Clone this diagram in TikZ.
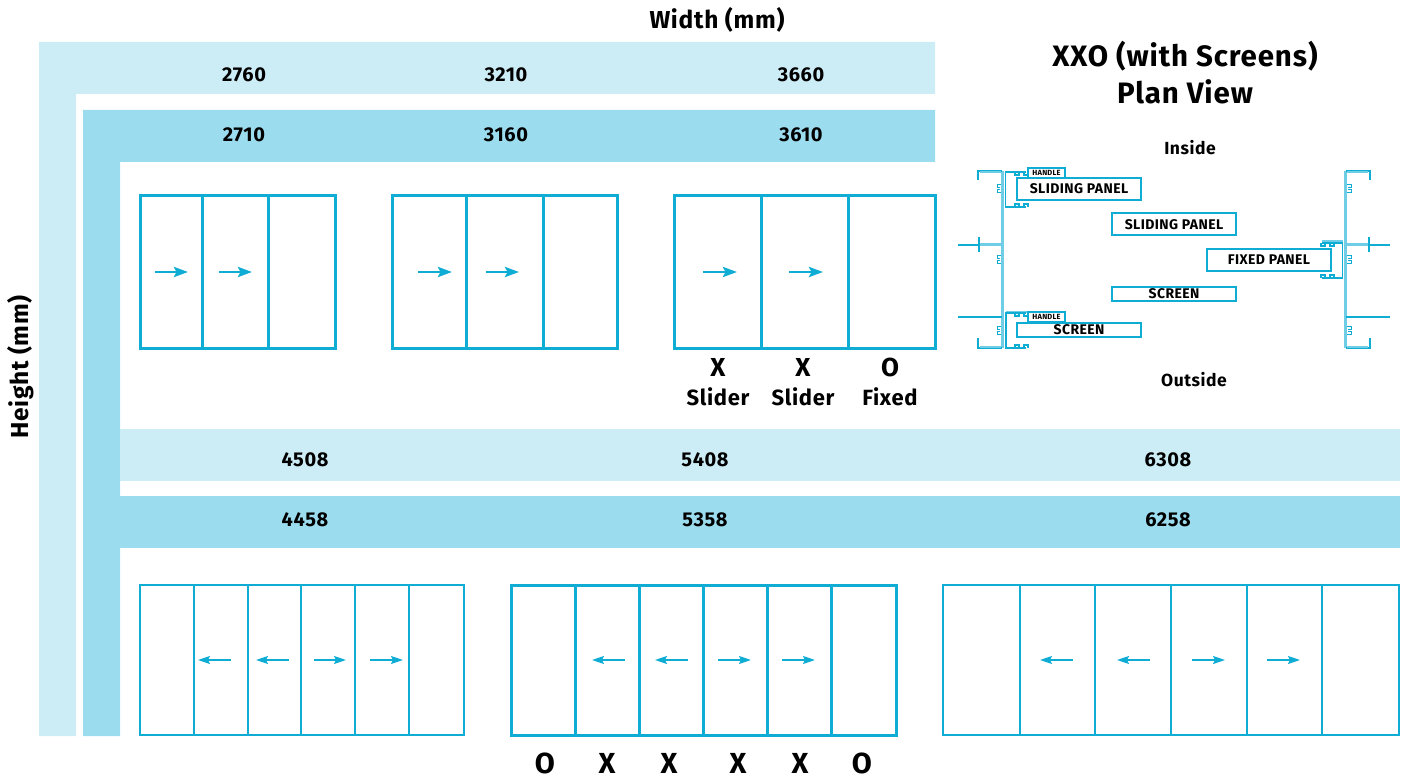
\documentclass[tikz,border=0pt]{standalone}
\usepackage{fontspec}
\setmainfont{Fira Sans}[LetterSpace=3]
\usetikzlibrary{arrows.meta}
\definecolor{bandlight}{HTML}{CCEDF6}
\definecolor{banddark}{HTML}{9BDCEE}
\definecolor{frameblue}{HTML}{0FACD3}
\definecolor{jamblight}{HTML}{6FCDE6}
\tikzset{
	sizelabel/.style={font=\fontsize{20}{22}\selectfont\bfseries,inner sep=0pt},
	headlabel/.style={font=\fontsize{24.5}{26}\selectfont\bfseries,inner sep=0pt},
	titlelabel/.style={font=\fontsize{29.5}{37}\selectfont\bfseries,inner sep=0pt,align=center},
	sidelabel/.style={font=\fontsize{17.5}{20}\selectfont\bfseries,inner sep=0pt},
	codelabel/.style={font=\fontsize{22}{29}\selectfont\bfseries,inner sep=0pt,align=center},
	paneltag/.style={draw=frameblue,line width=2pt,fill=white,inner sep=0pt,font=\fontsize{14}{15}\selectfont\bfseries},
	handletag/.style={paneltag,line width=1.6pt,font=\fontsize{7.5}{8}\selectfont\bfseries},
	travel/.style={->,draw=frameblue},
	jamb/.style={draw=jamblight,line width=3.5pt},
	profile/.style={draw=frameblue,line width=1.3pt}
}
\begin{document}
\begin{tikzpicture}[x=1pt,y=-1pt,>={Stealth[length=14pt,width=10pt,inset=2.5pt]},line join=miter]
	\useasboundingbox (0,0) rectangle (1408,778);
	% bands
	\fill[bandlight] (39,42)--(935,42)--(935,94)--(76,94)--(76,736)--(39,736)--cycle;
	\fill[banddark] (83,110)--(935,110)--(935,162)--(120,162)--(120,736)--(83,736)--cycle;
	\fill[bandlight] (120,429) rectangle (1400,481);
	\fill[banddark] (120,496) rectangle (1400,548);
	% axis titles
	\node[headlabel] (widthlabel) at (717,20) {Width (mm)};
	\node[headlabel,rotate=90] (heightlabel) at (21,367) {Height (mm)};
	% sizes
	\foreach \xpos/\outer/\inner in {244/2760/2710,506/3210/3160,801/3660/3610}{
		\node[sizelabel] (w\outer) at (\xpos,74.5) {\outer};
		\node[sizelabel] (w\inner) at (\xpos,134.5) {\inner};
	}
	\foreach \xpos/\outer/\inner in {305/4508/4458,705/5408/5358,1168/6308/6258}{
		\node[sizelabel] (h\outer) at (\xpos,459.5) {\outer};
		\node[sizelabel] (h\inner) at (\xpos,519.5) {\inner};
	}
	% top row doors
	\foreach \xa/\xb/\xc/\xd in {140/202/268/335,392/466/543/617,674/761/848/935}{
		\draw[frameblue,line width=3pt] (\xa,196) rectangle (\xd,348);
		\draw[frameblue,line width=3pt] (\xb,196)--(\xb,348) (\xc,196)--(\xc,348);
	}
	\foreach \i/\xa/\xb in {1/155/188,2/219/252,3/418/452,4/486/519,5/703/737,6/789/823}{
		\coordinate (ta\i) at (\xa,272);
		\coordinate (tb\i) at (\xb,272);
		\draw[travel,line width=2.8pt] (ta\i)--(tb\i);
	}
	% bottom row doors
	\foreach \lw/\xs in {2.2/{140,194,248,301,355,409,464},3/{511,575,639,703,767,831,896},1.6/{943,1020,1095,1171,1247,1322,1399}}{
		\foreach \xa in \xs {
			\draw[frameblue,line width=\lw pt] (\xa,585)--(\xa,735);
		}
	}
	\draw[frameblue,line width=2pt] (140,585) rectangle (464,735);
	\draw[frameblue,line width=3pt] (511,585) rectangle (896,735);
	\draw[frameblue,line width=1.6pt] (943,585) rectangle (1399,735);
	\foreach \i/\xa/\xb in {1/231/198,2/289/256,3/314/346,4/370/403,5/625/592,6/688/655,7/718/751,8/782/815,9/1073/1040,10/1150/1117,11/1192/1225,12/1267/1300}{
		\coordinate (ba\i) at (\xa,660);
		\coordinate (bb\i) at (\xb,660);
		\draw[travel,line width=1.8pt,>={Stealth[length=12pt,width=8pt,inset=2pt]}] (ba\i)--(bb\i);
	}
	% letters
	\node[codelabel] (code1) at (718,382) {{\fontsize{26}{29}\selectfont X}\\Slider};
	\node[codelabel] (code2) at (803,382) {{\fontsize{26}{29}\selectfont X}\\Slider};
	\node[codelabel] (code3) at (890,382) {{\fontsize{26}{29}\selectfont O}\\Fixed};
	\foreach \i/\xa/\letter in {1/545/O,2/607/X,3/669/X,4/738/X,5/800/X,6/862/O}{
		\node[font=\fontsize{29}{31}\selectfont\bfseries,inner sep=0pt] (bottom\i) at (\xa,763.5) {\letter};
	}
	% plan view
	\node[titlelabel] (plantitle) at (1185,73) {XXO (with Screens)\\Plan View};
	\node[sidelabel] (inside) at (1190,148) {Inside};
	\node[sidelabel] (outside) at (1194,380) {Outside};
	% jambs
	\draw[jamb] (1002.5,171)--(1002.5,348);
	\draw[jamb] (1345.5,171)--(1345.5,348);
	\draw[profile] (1002,171)--(978,171)--(978,180);
	\draw[profile] (1002,348)--(978,348)--(978,338);
	\draw[profile] (1346,171)--(1370,171)--(1370,180);
	\draw[profile] (1346,348)--(1370,348)--(1370,338);
	\draw[jamb,line width=2pt] (980,172.5)--(1001,172.5) (980,346.5)--(1001,346.5) (1347,172.5)--(1368,172.5) (1347,346.5)--(1368,346.5);
	\foreach \xa/\xb/\xc/\d in {1002/979/958/1,1346/1369/1390/-1}{
		\draw[jamb,line width=2.5pt] (\xa,244.5)--(\xb,244.5);
		\draw[profile] (\xb,245)--(\xc,245);
		\draw[profile,line width=2pt] (\xb,237)--(\xb,252);
		\draw[profile,line width=2.4pt] (\xc+\d*1,245)--(\xc+\d*5,245);
		\draw[profile] (\xa,317)--(\xc,317);
		\draw[profile,line width=2.4pt] (\xc+\d*1,317)--(\xc+\d*5,317);
	}
	% hooks on the flanges
	\foreach \xa in {978,1370}{
		\draw[profile,line width=2pt] (\xa,176)--(\xa,180);
		\draw[profile,line width=2pt] (\xa,338)--(\xa,343);
	}
	% sash frames
	\draw[jamb,line width=2.5pt] (1006,312)--(1027,312);
	\draw[jamb,line width=2.5pt] (1343,241.5)--(1322,241.5);
	\draw[profile] (1026,172)--(1005.5,172)--(1005.5,207)--(1026,207);
	\draw[profile] (1026,313)--(1006,313)--(1006,348)--(1026,348);
	\draw[profile] (1322,243)--(1342.5,243)--(1342.5,278)--(1322,278);
	\foreach \xa/\ya/\d in {1017/172/1,1026/172/1,1017/207/-1,1026/207/-1,1017/313/1,1026/313/1,1017/348/-1,1026/348/-1,1323/243/1,1332/243/1,1323/278/-1,1332/278/-1}{
		\draw[profile] (\xa-2,\ya)--(\xa-2,\ya+\d*3)--(\xa+2,\ya+\d*3)--(\xa+2,\ya);
	}
	% clips on the jambs
	\foreach \xa/\d in {1001/-1,1347/1}{
		\foreach \ya in {189,259,330}{
			\draw[profile,line width=1pt] (\xa,\ya-4)--(\xa+\d*4,\ya-4)--(\xa+\d*4,\ya-1)--(\xa+\d*1,\ya-1);
			\draw[profile,line width=1pt] (\xa,\ya+4)--(\xa+\d*4,\ya+4)--(\xa+\d*4,\ya+1)--(\xa+\d*1,\ya+1);
		}
	}
	% tags
	\node[handletag,minimum width=37pt,minimum height=10pt] (handletop) at (1046.5,173) {HANDLE};
	\node[handletag,minimum width=37pt,minimum height=10pt] (handlebottom) at (1046.5,317) {HANDLE};
	\node[paneltag,minimum width=124pt,minimum height=22pt] (slidingone) at (1079,189) {SLIDING PANEL};
	\node[paneltag,minimum width=124pt,minimum height=22pt] (slidingtwo) at (1174,224.5) {SLIDING PANEL};
	\node[paneltag,minimum width=124pt,minimum height=22pt] (fixedpanel) at (1269,260) {FIXED PANEL};
	\node[paneltag,minimum width=124pt,minimum height=14.5pt] (screentwo) at (1174,294) {SCREEN};
	\node[paneltag,minimum width=124pt,minimum height=14.5pt] (screenone) at (1079,330) {SCREEN};
\end{tikzpicture}
\end{document}
